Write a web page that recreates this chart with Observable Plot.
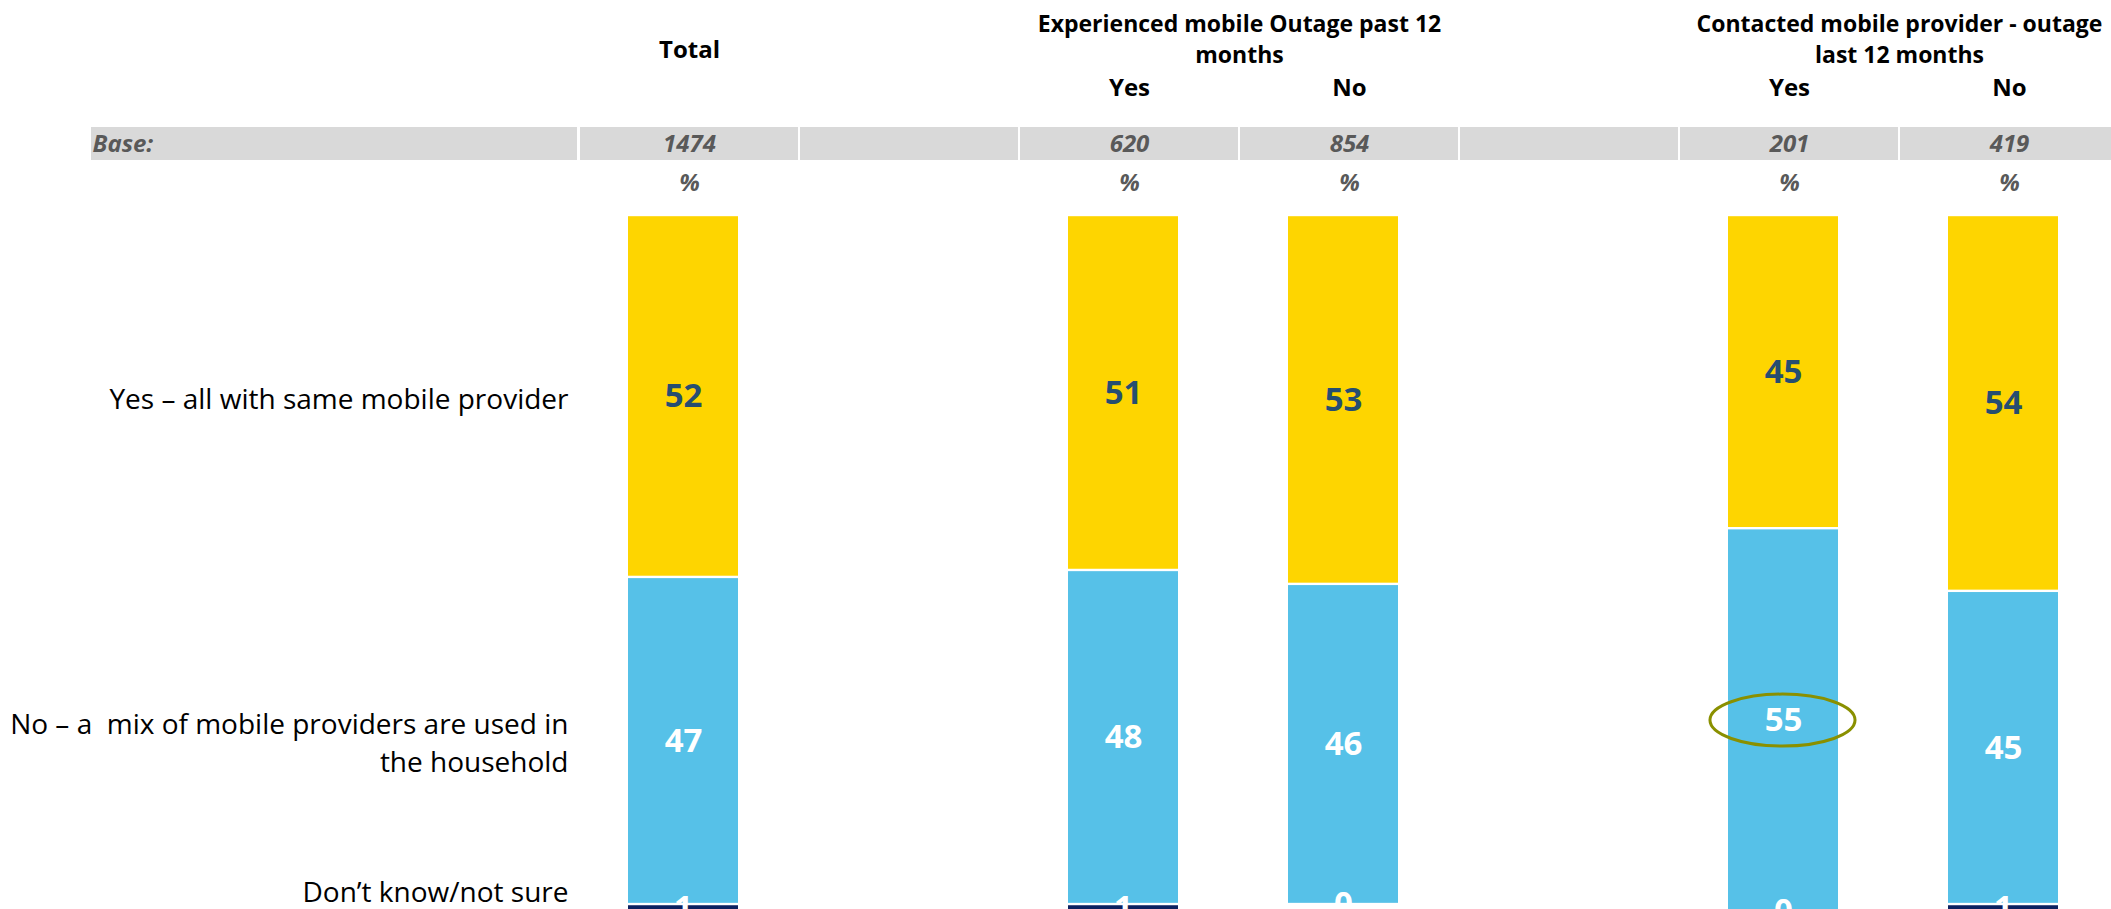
<!DOCTYPE html>
<html>
<head>
<meta charset="utf-8">
<script src="https://cdn.jsdelivr.net/npm/d3@7"></script>
<script src="https://cdn.jsdelivr.net/npm/@observablehq/plot@0.6"></script>
<style>
  html, body { margin: 0; padding: 0; background: #ffffff; }
  #chart svg { display: block; }
</style>
</head>
<body>
<div id="chart"></div>
<script>
// ---------- DATA ----------
const columnIds = ["total", "blank1", "expYes", "expNo", "blank2", "conYes", "conNo"];
const subHeaders = ["", "", "Yes", "No", "", "Yes", "No"];
const baseSizes = [1474, null, 620, 854, null, 201, 419];
const topHeaders = ["Total", "Experienced mobile Outage past 12\nmonths", "Contacted mobile provider - outage\nlast 12 months"];
const topHeaderColumns = ["total", "expYes", "conYes"];
const topHeaderSpans = [1, 2, 2];

const barColumns = ["total", "expYes", "expNo", "conYes", "conNo"];
const categories = ["Yes – all with same mobile provider", "No – a  mix of mobile providers are used in the household", "Don’t know/not sure"];
const categoryLabels = ["Yes – all with same mobile provider", "No – a  mix of mobile providers are used in\nthe household", "Don’t know/not sure"];
const sameProvider = [52, 51, 53, 45, 54];
const mixedProviders = [47, 48, 46, 55, 45];
const dontKnow = [1, 1, 0, 0, 1];
const highlightColumn = "conYes";
const highlightCategory = 1;

// ---------- BUILD TABLES ----------
const seriesValues = [sameProvider, mixedProviders, dontKnow];
const rows = [];
barColumns.forEach((col, i) => {
  let acc = 0;
  categories.forEach((cat, j) => {
    const v = seriesValues[j][i];
    rows.push({col, cat, idx: j, value: v, mid: acc + v / 2});
    acc += v;
  });
});
const baseRows = columnIds.map((id, i) => ({id, base: baseSizes[i]})).filter(d => d.base != null);
const subRows = columnIds.map((id, i) => ({id, label: subHeaders[i]})).filter(d => d.label);
const topRows = topHeaders.map((t, i) => ({id: topHeaderColumns[i], text: t, span: topHeaderSpans[i]}));
const rowLabelRows = rows.filter(d => d.col === "total").map(d => ({...d, label: categoryLabels[d.idx]}));
const highlightRows = rows.filter(d => d.col === highlightColumn && d.idx === highlightCategory);

// ---------- LAYOUT ----------
const W = 2111, H = 909;
const xRange = [579, 2119];
const band = (xRange[1] - xRange[0]) / columnIds.length;
const barDx = -6;
const font = "'Open Sans', 'DejaVu Sans', sans-serif";
const grey = "#595959";

const ellipseSymbol = {
  draw(context, size) {
    const ry = Math.sqrt(size / Math.PI);
    const rx = ry * 2.79;
    const k = 0.5523;
    context.moveTo(rx, 0);
    context.bezierCurveTo(rx, k * ry, k * rx, ry, 0, ry);
    context.bezierCurveTo(-k * rx, ry, -rx, k * ry, -rx, 0);
    context.bezierCurveTo(-rx, -k * ry, -k * rx, -ry, 0, -ry);
    context.bezierCurveTo(k * rx, -ry, rx, -k * ry, rx, 0);
    context.closePath();
  }
};

const headerText = {frameAnchor: "top", lineAnchor: "middle", fontWeight: "bold", fontSize: 24, fill: "#000"};
const baseText = {frameAnchor: "top", lineAnchor: "middle", fontStyle: "italic", fontWeight: "bold", fontSize: 24, fill: grey};

const plot = Plot.plot({
  width: W,
  height: H,
  margin: 0,
  style: {fontFamily: font, background: "#ffffff", overflow: "hidden"},
  x: {type: "band", domain: columnIds, range: xRange, padding: 0, axis: null},
  y: {domain: [0, 100], range: [215, 911], axis: null},
  color: {domain: categories, range: ["#FED500", "#56C1E8", "#0B2160"]},
  marks: [
    // Base row background
    Plot.rect([0], {insetLeft: 91, insetRight: W - 577, insetTop: 127, insetBottom: H - 160, fill: "#D9D9D9"}),
    Plot.cell(columnIds, {x: d => d, fill: "#D9D9D9", insetLeft: 1, insetRight: 1, insetTop: 127, insetBottom: H - 160}),
    Plot.text(["Base:"], {...baseText, frameAnchor: "top-left", dx: 92, dy: 144, textAnchor: "start"}),
    Plot.text(baseRows, {...baseText, x: "id", text: d => String(d.base), dy: 144}),
    Plot.text(barColumns, {...baseText, x: d => d, text: () => "%", dy: 183}),
    // Headers
    Plot.text(topRows.filter(d => d.span === 1), {...headerText, x: "id", text: "text", dy: 50}),
    Plot.text(topRows.filter(d => d.span === 2), {...headerText, x: "id", text: "text", dx: band / 2, dy: 37, lineHeight: 1.36, fontSize: 23}),
    Plot.text(subRows, {...headerText, x: "id", text: "label", dy: 88}),
    // Bars
    Plot.barY(rows, {x: "col", y: "value", fill: "cat", insetLeft: 49, insetRight: 61, insetTop: 1.2, insetBottom: 1.2}),
    // Value labels
    Plot.text(rows.filter(d => d.idx === 0), {x: "col", y: "mid", text: d => String(d.value), dx: barDx, fontWeight: "bold", fontSize: 33, fill: "#264E70"}),
    Plot.text(rows.filter(d => d.idx !== 0), {x: "col", y: "mid", text: d => String(d.value), dx: barDx, fontWeight: "bold", fontSize: 33, fill: "#ffffff"}),
    // Highlight ellipse
    Plot.dot(highlightRows, {x: "col", y: "mid", r: 26, symbol: ellipseSymbol, dx: -7, stroke: "#8A9000", strokeWidth: 3, fill: "none"}),
    // Row labels
    Plot.text(rowLabelRows.filter(d => d.idx < 2), {x: "col", y: "mid", text: "label", textAnchor: "end", dx: -121, lineHeight: 1.36, fontSize: 28, fill: "#000"}),
    Plot.text(rowLabelRows.filter(d => d.idx === 2), {x: "col", y: "mid", text: "label", textAnchor: "end", dx: -121, dy: -15, fontSize: 28, fill: "#000"})
  ]
});
document.getElementById("chart").appendChild(plot);
</script>
</body>
</html>
